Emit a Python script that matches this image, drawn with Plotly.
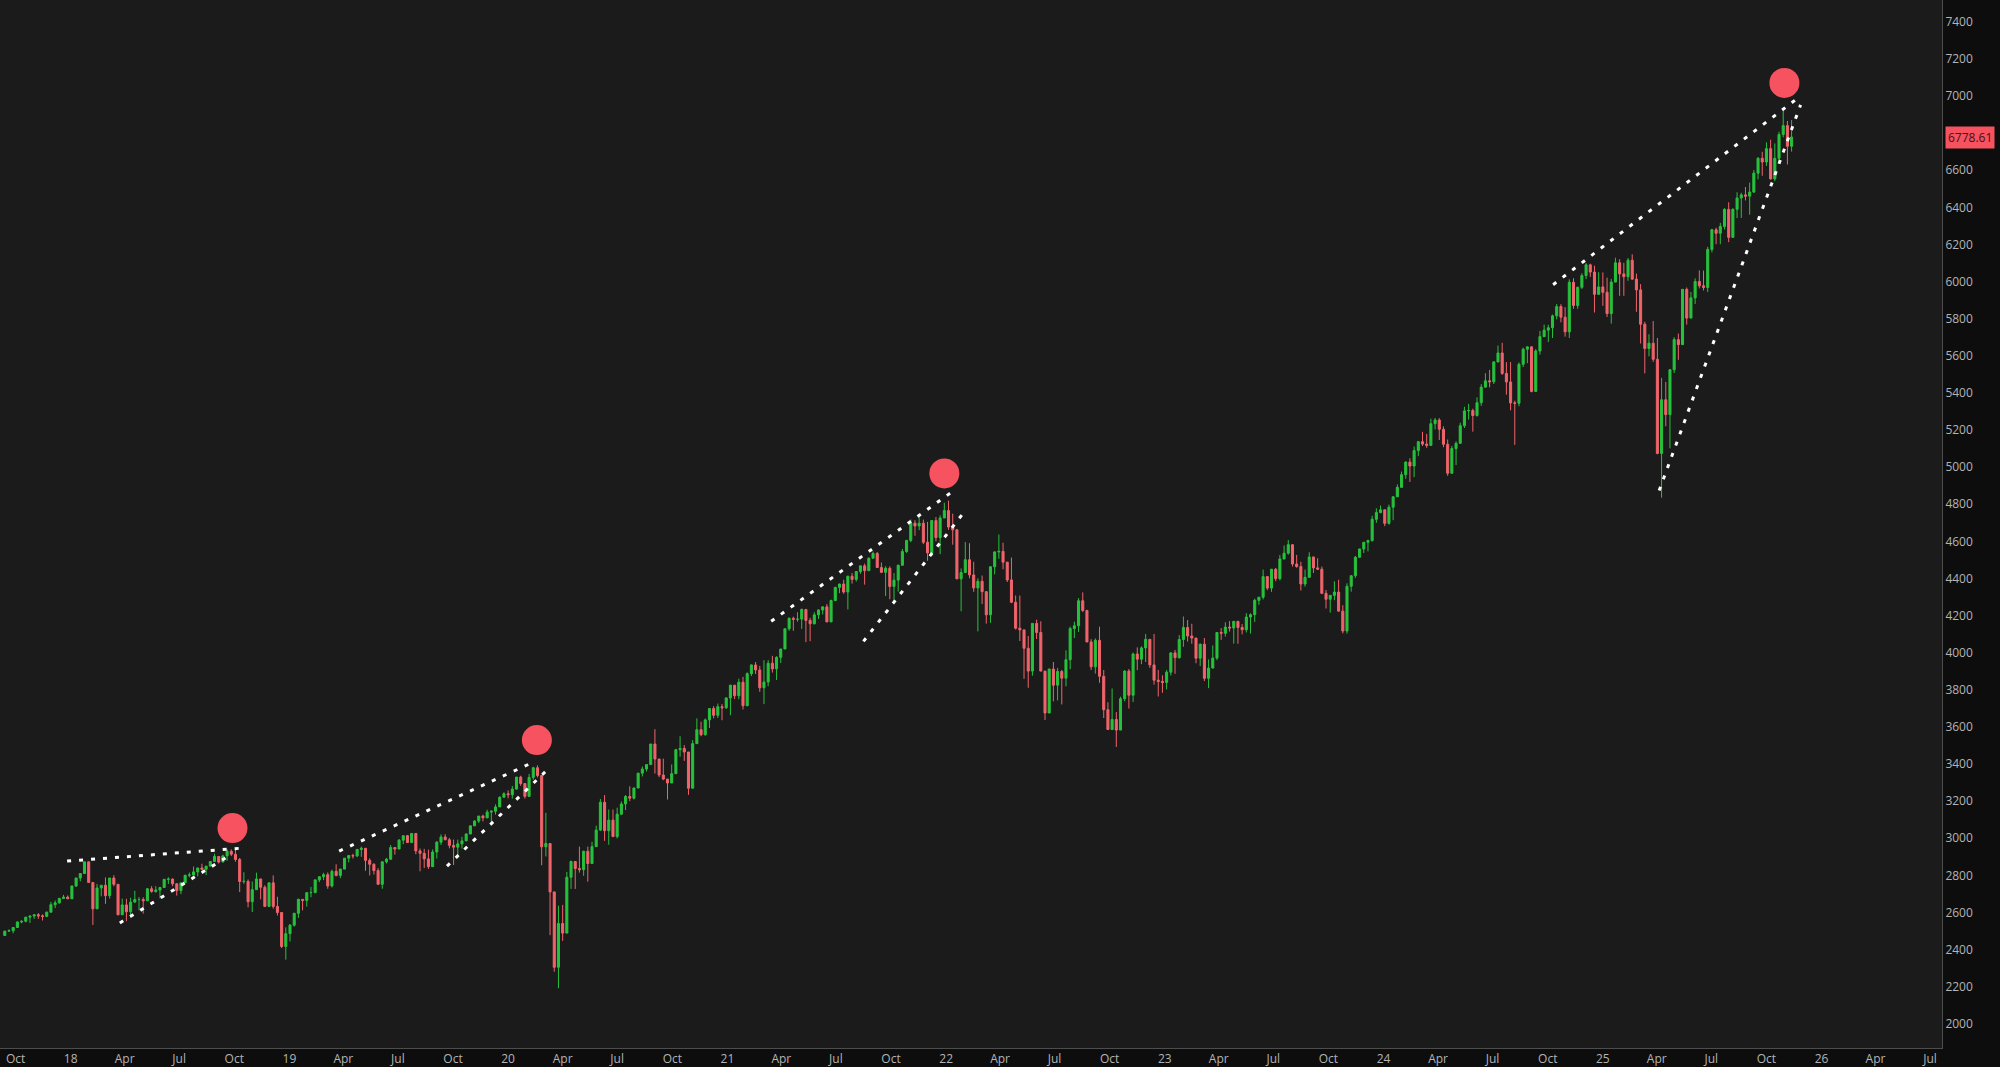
import pandas as pd
import plotly.graph_objects as go

# ---------------- weekly S&P 500 data (week of Sep 11 2017 ... week of Nov 10 2025) ----------------
first_open = 2476

c17 = [2500, 2502, 2519, 2549, 2553, 2575, 2581, 2588, 2582, 2579, 2602, 2642, 2652, 2676, 2683, 2674]
h17 = [2500, 2509, 2520, 2552, 2557, 2575, 2582, 2588, 2597, 2590, 2605, 2657, 2665, 2679, 2695, 2692]
l17 = [2474, 2496, 2488, 2520, 2542, 2547, 2544, 2566, 2566, 2557, 2578, 2600, 2624, 2648, 2676, 2673]

c18 = [2743, 2786, 2810, 2873, 2762, 2620, 2732, 2747, 2691, 2786, 2752, 2588, 2641, 2604, 2656, 2670,
       2670, 2663, 2728, 2713, 2721, 2735, 2779, 2780, 2755, 2718, 2760, 2801, 2802, 2819, 2840, 2833,
       2850, 2875, 2902, 2872, 2905, 2930, 2914, 2886, 2767, 2768, 2658, 2723, 2781, 2736, 2633, 2760,
       2633, 2600, 2417, 2486]
h18 = [2744, 2787, 2810, 2873, 2870, 2763, 2754, 2747, 2789, 2786, 2801, 2752, 2675, 2674, 2680, 2717,
       2683, 2682, 2732, 2742, 2742, 2736, 2779, 2790, 2784, 2752, 2763, 2801, 2816, 2848, 2841, 2863,
       2850, 2877, 2917, 2902, 2912, 2941, 2940, 2939, 2894, 2817, 2778, 2767, 2815, 2781, 2747, 2761,
       2800, 2685, 2601, 2520]
l18 = [2683, 2737, 2768, 2808, 2759, 2533, 2622, 2687, 2647, 2675, 2741, 2585, 2594, 2553, 2587, 2660,
       2612, 2594, 2662, 2707, 2707, 2676, 2735, 2754, 2742, 2691, 2699, 2766, 2790, 2802, 2795, 2827,
       2802, 2855, 2880, 2864, 2872, 2879, 2904, 2874, 2710, 2755, 2628, 2603, 2722, 2671, 2631, 2649,
       2621, 2584, 2409, 2346]

c19 = [2532, 2596, 2671, 2665, 2707, 2708, 2776, 2793, 2804, 2743, 2822, 2800, 2834, 2893, 2907, 2905,
       2940, 2946, 2881, 2860, 2826, 2752, 2873, 2887, 2950, 2942, 2990, 3014, 2977, 3026, 2932, 2919,
       2889, 2847, 2926, 2979, 3007, 2992, 2962, 2952, 2970, 2986, 3023, 3067, 3093, 3120, 3110, 3141,
       3146, 3169, 3221, 3240]
h19 = [2538, 2598, 2675, 2672, 2709, 2738, 2776, 2793, 2814, 2816, 2831, 2860, 2836, 2893, 2910, 2917,
       2940, 2955, 2932, 2892, 2865, 2839, 2876, 2894, 2964, 2950, 2996, 3014, 3018, 3028, 3027, 2945,
       2943, 2939, 2940, 2985, 3021, 3022, 3002, 2993, 2993, 3008, 3028, 3067, 3097, 3120, 3127, 3154,
       3150, 3183, 3226, 3248]
l19 = [2444, 2524, 2571, 2612, 2632, 2682, 2703, 2764, 2775, 2728, 2735, 2795, 2785, 2849, 2870, 2891,
       2898, 2900, 2825, 2800, 2805, 2750, 2728, 2864, 2883, 2912, 2952, 2968, 2975, 2976, 2914, 2822,
       2840, 2835, 2853, 2891, 2964, 2990, 2946, 2856, 2892, 2945, 2991, 3023, 3066, 3082, 3091, 3115,
       3070, 3128, 3188, 3223]

c20 = [3235, 3265, 3330, 3295, 3226, 3328, 3380, 3338, 2954, 2972, 2711, 2305, 2541, 2489, 2790, 2875,
       2837, 2831, 2930, 2864, 2955, 3044, 3194, 3041, 3098, 3009, 3130, 3185, 3225, 3216, 3271, 3351,
       3373, 3397, 3508, 3427, 3341, 3319, 3298, 3348, 3477, 3484, 3465, 3270, 3510, 3585, 3558, 3638,
       3699, 3663, 3709, 3703, 3756]
h20 = [3258, 3282, 3330, 3337, 3294, 3347, 3385, 3393, 3259, 3137, 2882, 2553, 2637, 2641, 2819, 2880,
       2869, 2955, 2933, 2955, 2981, 3068, 3212, 3233, 3155, 3155, 3165, 3198, 3233, 3280, 3273, 3352,
       3387, 3399, 3509, 3588, 3425, 3429, 3320, 3398, 3482, 3550, 3502, 3401, 3529, 3646, 3628, 3645,
       3701, 3712, 3726, 3723, 3760]
l20 = [3215, 3214, 3263, 3283, 3214, 3222, 3315, 3328, 2855, 2902, 2478, 2281, 2192, 2447, 2504, 2727,
       2727, 2815, 2798, 2766, 2879, 2969, 3039, 2986, 2965, 3008, 2999, 3127, 3152, 3200, 3209, 3284,
       3333, 3360, 3399, 3349, 3329, 3313, 3209, 3323, 3361, 3440, 3417, 3234, 3279, 3511, 3550, 3553,
       3594, 3646, 3648, 3636, 3697]

c21 = [3825, 3768, 3841, 3714, 3887, 3934, 3907, 3811, 3842, 3943, 3913, 3975, 4020, 4129, 4185, 4180,
       4181, 4233, 4174, 4156, 4204, 4230, 4247, 4166, 4281, 4352, 4370, 4327, 4412, 4395, 4437, 4468,
       4442, 4509, 4535, 4459, 4433, 4455, 4357, 4391, 4471, 4545, 4605, 4698, 4683, 4698, 4595, 4538,
       4712, 4620, 4726, 4766]
h21 = [3827, 3823, 3860, 3870, 3894, 3937, 3950, 3929, 3960, 3960, 3983, 3981, 4020, 4129, 4191, 4194,
       4218, 4238, 4236, 4188, 4218, 4234, 4249, 4262, 4286, 4355, 4372, 4393, 4415, 4429, 4440, 4468,
       4480, 4513, 4545, 4542, 4486, 4466, 4465, 4429, 4475, 4559, 4608, 4718, 4714, 4743, 4717, 4705,
       4713, 4731, 4740, 4808]
l21 = [3663, 3750, 3749, 3694, 3730, 3874, 3885, 3789, 3723, 3819, 3893, 3853, 3944, 4021, 4118, 4118,
       4167, 4128, 4057, 4062, 4152, 4182, 4206, 4165, 4165, 4278, 4321, 4318, 4233, 4372, 4384, 4425,
       4367, 4448, 4514, 4459, 4429, 4305, 4288, 4278, 4329, 4473, 4538, 4595, 4630, 4660, 4585, 4495,
       4541, 4600, 4531, 4733]

c22 = [4677, 4662, 4398, 4432, 4501, 4419, 4349, 4385, 4329, 4204, 4463, 4543, 4546, 4488, 4392, 4272,
       4132, 4123, 4024, 3901, 4158, 4109, 3901, 3675, 3912, 3825, 3899, 3863, 3962, 4130, 4145, 4280,
       4228, 4058, 3924, 4067, 3873, 3693, 3586, 3640, 3583, 3752, 3901, 3771, 3993, 3965, 4026, 4072,
       3934, 3852, 3845, 3840]
h22 = [4819, 4749, 4667, 4454, 4596, 4590, 4490, 4401, 4416, 4303, 4465, 4547, 4637, 4593, 4471, 4513,
       4308, 4308, 4081, 4090, 4158, 4178, 4169, 3838, 3913, 3950, 3918, 3907, 4013, 4141, 4167, 4294,
       4325, 4204, 4073, 4077, 4140, 3907, 3733, 3807, 3680, 3763, 3906, 3912, 4001, 4029, 4034, 4101,
       4052, 4101, 3907, 3878]
l22 = [4662, 4582, 4396, 4223, 4451, 4401, 4328, 4115, 4262, 4157, 4161, 4422, 4506, 4450, 4381, 4267,
       4125, 4063, 3859, 3811, 3876, 4074, 3900, 3637, 3705, 3738, 3743, 3721, 3819, 3911, 4079, 4112,
       4219, 4057, 3907, 3887, 3838, 3648, 3584, 3590, 3492, 3598, 3738, 3699, 3734, 3906, 3938, 3950,
       3918, 3828, 3764, 3784]

c23 = [3895, 3999, 3973, 4071, 4136, 4090, 4079, 3970, 4046, 3862, 3917, 3971, 4109, 4105, 4138, 4133,
       4169, 4136, 4124, 4192, 4205, 4282, 4299, 4410, 4348, 4450, 4399, 4505, 4536, 4582, 4478, 4464,
       4370, 4406, 4516, 4457, 4450, 4320, 4288, 4309, 4327, 4224, 4117, 4358, 4415, 4514, 4559, 4595,
       4604, 4719, 4755, 4770]
h23 = [3907, 4003, 4015, 4095, 4195, 4176, 4156, 4078, 4049, 4079, 3964, 4039, 4110, 4133, 4164, 4170,
       4170, 4167, 4154, 4213, 4212, 4291, 4299, 4448, 4409, 4450, 4456, 4527, 4578, 4607, 4584, 4527,
       4490, 4448, 4541, 4515, 4509, 4464, 4338, 4311, 4385, 4393, 4256, 4374, 4415, 4521, 4560, 4595,
       4609, 4738, 4778, 4793]
l23 = [3802, 3877, 3886, 3968, 4032, 4060, 4048, 3943, 3928, 3847, 3809, 3937, 3960, 4069, 4087, 4114,
       4049, 4048, 4099, 4109, 4103, 4166, 4258, 4287, 4337, 4328, 4385, 4389, 4503, 4528, 4464, 4458,
       4335, 4356, 4414, 4430, 4448, 4316, 4238, 4216, 4283, 4223, 4104, 4103, 4329, 4403, 4513, 4537,
       4546, 4599, 4700, 4751]

c24 = [4697, 4784, 4840, 4891, 4959, 5027, 5006, 5089, 5137, 5124, 5117, 5234, 5254, 5204, 5123, 4967,
       5100, 5128, 5223, 5303, 5305, 5278, 5347, 5431, 5465, 5460, 5567, 5615, 5505, 5459, 5346, 5344,
       5554, 5635, 5648, 5408, 5626, 5703, 5738, 5751, 5815, 5865, 5808, 5729, 5996, 5871, 5969, 6032,
       6090, 6051, 5931, 5971]
h24 = [4754, 4798, 4842, 4907, 4976, 5031, 5048, 5111, 5141, 5190, 5179, 5261, 5265, 5264, 5220, 5149,
       5114, 5139, 5239, 5325, 5341, 5315, 5376, 5447, 5506, 5524, 5570, 5655, 5670, 5566, 5566, 5358,
       5564, 5644, 5651, 5651, 5636, 5734, 5768, 5767, 5822, 5879, 5878, 5862, 6012, 6018, 5972, 6045,
       6099, 6096, 6085, 6050]
l24 = [4682, 4690, 4714, 4845, 4889, 4937, 4920, 4946, 5059, 5114, 5104, 5117, 5203, 5146, 5107, 4953,
       4969, 5011, 5127, 5211, 5256, 5191, 5272, 5330, 5430, 5430, 5448, 5564, 5497, 5390, 5306, 5120,
       5328, 5539, 5560, 5403, 5406, 5606, 5704, 5674, 5696, 5796, 5780, 5703, 5696, 5853, 5853, 5959,
       6013, 6025, 5833, 5932]

c25 = [5942, 5827, 5997, 6101, 6041, 6026, 6115, 6013, 5955, 5770, 5639, 5668, 5581, 5074, 5363, 5283,
       5525, 5687, 5660, 5958, 5803, 5912, 6000, 5977, 5968, 6173, 6279, 6260, 6297, 6389, 6238, 6389,
       6450, 6467, 6460, 6482, 6584, 6664, 6644, 6716, 6553, 6664, 6792, 6840, 6729, 6778.61]
h25 = [6049, 6021, 6014, 6128, 6120, 6101, 6127, 6147, 6043, 5986, 5783, 5716, 5787, 5696, 5481, 5459,
       5528, 5700, 5720, 5959, 5968, 5944, 6017, 6060, 6059, 6187, 6284, 6290, 6316, 6395, 6427, 6395,
       6481, 6478, 6509, 6533, 6601, 6671, 6699, 6750, 6764, 6744, 6807, 6920, 6865, 6870]
l25 = [5869, 5809, 5773, 6000, 5923, 5923, 6004, 6008, 5837, 5666, 5505, 5597, 5567, 5069, 4835, 5220,
       5101, 5507, 5578, 5770, 5768, 5825, 5879, 5963, 5952, 5943, 6157, 6201, 6201, 6281, 6212, 6236,
       6342, 6343, 6437, 6360, 6478, 6551, 6570, 6623, 6550, 6541, 6645, 6777, 6631, 6700]

last_price = 6778.61

# ---------------- annotations data ----------------
trend_x = [
    ['2017-12-26', '2018-10-14'],
    ['2018-03-24', '2018-09-27'],
    ['2019-03-25', '2020-02-12'],
    ['2019-09-21', '2020-03-11'],
    ['2021-03-15', '2022-01-14'],
    ['2021-08-16', '2022-02-02'],
    ['2024-10-10', '2025-11-25'],
    ['2025-04-05', '2025-11-27'],
]
trend_y = [
    [2877, 2947],
    [2544, 2915],
    [2931, 3410],
    [2850, 3383],
    [4169, 4874],
    [4061, 4766],
    [5983, 6995],
    [4874, 6952],
]

circle_dates = ['2018-09-28', '2020-02-18', '2021-12-29', '2025-10-31']
circle_y = [3055, 3529, 4966, 7070]

# price-axis labels (6800 is hidden behind the last-price tag in the reference)
y_ticks = [2000, 2200, 2400, 2600, 2800, 3000, 3200, 3400, 3600, 3800, 4000, 4200, 4400, 4600,
           4800, 5000, 5200, 5400, 5600, 5800, 6000, 6200, 6400, 6600, 7000, 7200, 7400]

tick_dates = ['2017-10-01',
              '2018-01-01', '2018-04-01', '2018-07-01', '2018-10-01',
              '2019-01-01', '2019-04-01', '2019-07-01', '2019-10-01',
              '2020-01-01', '2020-04-01', '2020-07-01', '2020-10-01',
              '2021-01-01', '2021-04-01', '2021-07-01', '2021-10-01',
              '2022-01-01', '2022-04-01', '2022-07-01', '2022-10-01',
              '2023-01-01', '2023-04-01', '2023-07-01', '2023-10-01',
              '2024-01-01', '2024-04-01', '2024-07-01', '2024-10-01',
              '2025-01-01', '2025-04-01', '2025-07-01', '2025-10-01',
              '2026-01-01', '2026-04-01', '2026-07-01']
tick_text = ['Oct',
             '18', 'Apr', 'Jul', 'Oct',
             '19', 'Apr', 'Jul', 'Oct',
             '20', 'Apr', 'Jul', 'Oct',
             '21', 'Apr', 'Jul', 'Oct',
             '22', 'Apr', 'Jul', 'Oct',
             '23', 'Apr', 'Jul', 'Oct',
             '24', 'Apr', 'Jul', 'Oct',
             '25', 'Apr', 'Jul', 'Oct',
             '26', 'Apr', 'Jul']

# ---------------- assemble ----------------
closes = c17 + c18 + c19 + c20 + c21 + c22 + c23 + c24 + c25
highs = h17 + h18 + h19 + h20 + h21 + h22 + h23 + h24 + h25
lows = l17 + l18 + l19 + l20 + l21 + l22 + l23 + l24 + l25
assert len(closes) == len(highs) == len(lows)
opens = [first_open] + closes[:-1]
dates = pd.date_range('2017-09-13', periods=len(closes), freq='W-WED')

GREEN = '#27c23c'
RED = '#f0646b'
MARK = '#f7525f'

fig = go.Figure()
fig.add_trace(go.Candlestick(
    x=dates, open=opens, high=highs, low=lows, close=closes,
    increasing=dict(line=dict(color=GREEN, width=1), fillcolor=GREEN),
    decreasing=dict(line=dict(color=RED, width=1), fillcolor=RED),
    whiskerwidth=0, hoverinfo='skip', showlegend=False,
))

for xs, ys in zip(trend_x, trend_y):
    fig.add_trace(go.Scatter(
        x=xs, y=ys, mode='lines',
        line=dict(color='#ffffff', width=3, dash='4px,8px'),
        hoverinfo='skip', showlegend=False,
    ))

fig.add_trace(go.Scatter(
    x=circle_dates, y=circle_y, mode='markers',
    marker=dict(size=30, color=MARK, line=dict(width=0)),
    hoverinfo='skip', showlegend=False,
))

fig.add_annotation(
    xref='paper', x=1.0, xanchor='left', xshift=3,
    yref='y', y=last_price, yanchor='middle',
    text=f'{last_price:.2f}', showarrow=False,
    bgcolor=MARK, borderpad=2,
    font=dict(color='#4a0d12', size=12, family='Open Sans, Noto Sans, sans-serif'),
)

fig.update_layout(
    width=2000, height=1067,
    margin=dict(l=0, r=58, t=0, b=19, pad=0),
    paper_bgcolor='#0d0d0d', plot_bgcolor='#1b1b1b',
    showlegend=False, hovermode=False,
    font=dict(family='Open Sans, Noto Sans, sans-serif', size=12, color='#b4b4b4'),
    xaxis=dict(
        type='date', range=['2017-09-05', '2026-07-21'],
        tickmode='array', tickvals=tick_dates, ticktext=tick_text,
        showgrid=False, zeroline=False, showline=True, linecolor='#4d4d4d', linewidth=1,
        ticks='', rangeslider=dict(visible=False), automargin=False, fixedrange=True,
    ),
    yaxis=dict(
        side='right', range=[1870, 7517],
        tickmode='array', tickvals=y_ticks, ticktext=[str(v) for v in y_ticks],
        showgrid=False, zeroline=False, showline=True, linecolor='#4d4d4d', linewidth=1,
        ticks='', automargin=False, fixedrange=True,
    ),
)

fig.write_html(
    'out.html',
    config={'displayModeBar': False},
    post_script="document.body.style.margin='0';document.body.style.overflow='hidden';",
)
